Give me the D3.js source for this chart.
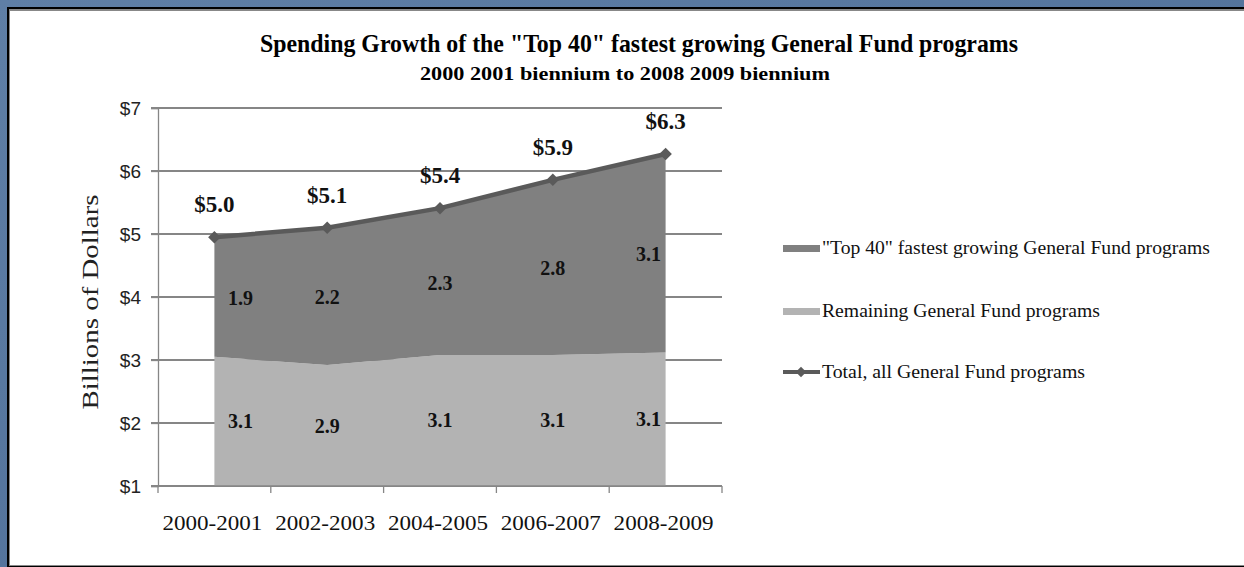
<!DOCTYPE html>
<html>
<head>
<meta charset="utf-8">
<script src="https://cdn.jsdelivr.net/npm/d3@7"></script>
<style>
html,body{margin:0;padding:0;background:#fff;}
svg{display:block;}
.serif{font-family:"Liberation Serif","Times New Roman",Times,serif;}
.sans{font-family:"Liberation Sans",Arial,Helvetica,sans-serif;}
</style>
</head>
<body>
<svg id="chart" width="1244" height="567"></svg>
<script>
const categories = ["2000-2001","2002-2003","2004-2005","2006-2007","2008-2009"];
const remaining = [3.05, 2.92, 3.08, 3.08, 3.12];
const top40 = [1.9, 2.18, 2.33, 2.78, 3.15];
const total = [4.95, 5.10, 5.41, 5.86, 6.27];
const totalLabels = ["$5.0","$5.1","$5.4","$5.9","$6.3"];
const top40Labels = ["1.9","2.2","2.3","2.8","3.1"];
const remainingLabels = ["3.1","2.9","3.1","3.1","3.1"];
const yTicks = [1,2,3,4,5,6,7];
const legendLabels = ["\"Top 40\" fastest growing General Fund programs","Remaining General Fund programs","Total, all General Fund programs"];

const svg = d3.select("#chart");
const W = 1244, H = 567;

// background frame
const defs = svg.append("defs");
const grad = defs.append("linearGradient").attr("id","bg").attr("x1",0).attr("y1",0).attr("x2",1).attr("y2",1);
grad.append("stop").attr("offset","0%").attr("stop-color","#5f7fa6");
grad.append("stop").attr("offset","100%").attr("stop-color","#4a6a94");
svg.append("rect").attr("width",W).attr("height",H).attr("fill","url(#bg)");
svg.append("rect").attr("x",7).attr("y",7).attr("width",W-7).attr("height",H-7).attr("fill","#000");
svg.append("rect").attr("x",9).attr("y",9).attr("width",W-9).attr("height",H-10).attr("fill","#888");
svg.append("rect").attr("x",10).attr("y",11).attr("width",W-10).attr("height",H-13).attr("fill","#fff");

// title
svg.append("text").attr("class","serif").attr("x",639).attr("y",52).attr("text-anchor","middle")
  .style("font-weight","bold").style("font-size","25px")
  .attr("textLength",758).attr("lengthAdjust","spacingAndGlyphs")
  .text("Spending Growth of the \"Top 40\" fastest growing General Fund programs");
svg.append("text").attr("class","serif").attr("x",625).attr("y",80).attr("text-anchor","middle")
  .style("font-weight","bold").style("font-size","19px")
  .attr("textLength",410).attr("lengthAdjust","spacingAndGlyphs")
  .text("2000 2001 biennium to 2008 2009 biennium");

const x0 = 158, x1 = 722, yTop = 108, yBot = 486;
const xb = d3.scaleBand().domain(categories).range([x0,x1]);
const xc = d => xb(d) + xb.bandwidth()/2;
const y = d3.scaleLinear().domain([1,7]).range([yBot,yTop]);

// gridlines
const gGrid = svg.append("g");
gGrid.selectAll("line").data(yTicks).join("line")
  .attr("x1",x0-7).attr("x2",x1).attr("y1",d=>y(d)).attr("y2",d=>y(d))
  .attr("stroke","#868686").attr("stroke-width",1.3).attr("shape-rendering","crispEdges");

// areas
const rows = categories.map((c,i)=>({c, i, rem:remaining[i], tot:total[i]}));
const areaRem = d3.area().x(d=>xc(d.c)).y0(y(1)).y1(d=>y(d.rem));
const areaTop = d3.area().x(d=>xc(d.c)).y0(d=>y(d.rem)).y1(d=>y(d.tot));
const gArea = svg.append("g");
gArea.append("path").datum(rows).attr("d",areaRem).attr("fill","#b3b3b3");
gArea.append("path").datum(rows).attr("d",areaTop).attr("fill","#808080");

// axes
const yAxis = svg.append("g").attr("transform",`translate(${x0},0)`)
  .call(d3.axisLeft(y).tickValues(yTicks).tickFormat(d=>"$"+d).tickSize(7).tickPadding(10));
yAxis.attr("font-family",null).attr("font-size",null);
yAxis.select(".domain").attr("stroke","#868686").attr("stroke-width",1.3);
yAxis.selectAll(".tick line").attr("stroke","#868686").attr("stroke-width",1.3);
yAxis.selectAll("text").attr("class","sans").style("font-size","19px").attr("fill","#222");

const xAxis = svg.append("g").attr("transform",`translate(0,${yBot})`);
xAxis.append("line").attr("x1",x0).attr("x2",x1).attr("y1",0).attr("y2",0).attr("stroke","#868686").attr("stroke-width",1.3);
const bounds = categories.map(c=>xb(c)).concat([x1]);
xAxis.selectAll("line.t").data(bounds).join("line").attr("class","t")
  .attr("x1",d=>d).attr("x2",d=>d).attr("y1",0).attr("y2",7).attr("stroke","#868686").attr("stroke-width",1.3);
xAxis.selectAll("text").data(categories).join("text").attr("class","serif")
  .attr("x",d=>xc(d)-2).attr("y",44).attr("text-anchor","middle")
  .style("font-size","22px").attr("fill","#111")
  .attr("textLength",100).attr("lengthAdjust","spacingAndGlyphs").text(d=>d);

// y axis title
svg.append("text").attr("class","serif").attr("transform","translate(98,302) rotate(-90)").attr("text-anchor","middle")
  .style("font-size","24px").attr("fill","#222")
  .attr("textLength",215).attr("lengthAdjust","spacingAndGlyphs")
  .text("Billions of Dollars");

// total line
const line = d3.line().x(d=>xc(d.c)).y(d=>y(d.tot));
svg.append("path").datum(rows).attr("d",line).attr("fill","none").attr("stroke","#5a5a5a").attr("stroke-width",4.5);
svg.append("g").selectAll("path").data(rows).join("path")
  .attr("d",d3.symbol(d3.symbolDiamond2,100)).attr("transform",d=>`translate(${xc(d.c)},${y(d.tot)})`)
  .attr("fill","#5a5a5a");

// labels (first and last category nudged inward, as in the original)
const nudge = i => i === 0 ? 26 : (i === categories.length-1 ? -17 : 0);
svg.append("g").selectAll("text").data(rows).join("text").attr("class","serif")
  .attr("x",d=>xc(d.c)).attr("y",(d)=>y(d.tot)-25).attr("text-anchor","middle")
  .style("font-weight","bold").style("font-size","23px").attr("fill","#111")
  .text((d,i)=>totalLabels[i]);
svg.append("g").selectAll("text").data(rows).join("text").attr("class","serif")
  .attr("x",d=>xc(d.c)+nudge(d.i)).attr("y",d=>y((d.rem+d.tot)/2)+8).attr("text-anchor","middle")
  .style("font-weight","bold").style("font-size","20px").attr("fill","#111")
  .text((d,i)=>top40Labels[i]);
svg.append("g").selectAll("text").data(rows).join("text").attr("class","serif")
  .attr("x",d=>xc(d.c)+nudge(d.i)).attr("y",d=>y((1+d.rem)/2)+7).attr("text-anchor","middle")
  .style("font-weight","bold").style("font-size","20px").attr("fill","#111")
  .text((d,i)=>remainingLabels[i]);

// legend
const legY = [248, 311, 372];
const lg = svg.append("g");
lg.append("rect").attr("x",783).attr("y",legY[0]-3).attr("width",37).attr("height",7).attr("fill","#808080");
lg.append("rect").attr("x",783).attr("y",legY[1]-3).attr("width",37).attr("height",7).attr("fill","#b3b3b3");
lg.append("line").attr("x1",783).attr("x2",820).attr("y1",legY[2]).attr("y2",legY[2]).attr("stroke","#5a5a5a").attr("stroke-width",4);
lg.append("path").attr("d",d3.symbol(d3.symbolDiamond2,70)).attr("transform",`translate(801,${legY[2]})`).attr("fill","#5a5a5a");
const legW = [388, 278, 263];
lg.selectAll("text").data(legendLabels).join("text").attr("class","serif")
  .attr("x",822).attr("y",(d,i)=>legY[i]+6)
  .style("font-size","19px").attr("fill","#111")
  .attr("textLength",(d,i)=>legW[i]).attr("lengthAdjust","spacingAndGlyphs")
  .text(d=>d);
</script>
</body>
</html>
